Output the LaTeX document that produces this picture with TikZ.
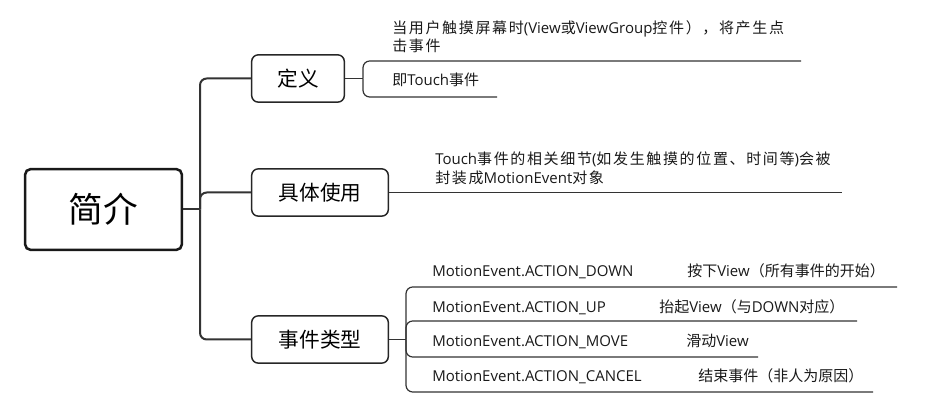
\documentclass[tikz,border=0pt]{standalone}
\usepackage{fontspec}
\setmainfont{Open Sans}
\newfontfamily\cjk{Noto Sans CJK SC}
\newfontfamily\cjkwide[LetterSpace=11]{Noto Sans CJK SC}
\newcommand{\zh}[1]{{\cjk #1}}
\newcommand{\zhw}[1]{{\cjkwide #1}}
\usepackage{tikz}
\usetikzlibrary{
  positioning,
  calc}
\tikzset{every picture/.style={font issue=\fontsize{11.25}{13.5}},
         font issue/.style={execute at begin picture={#1\selectfont}}
        }

\begin{document}
\begin{tikzpicture}[x=0.75pt, y=-0.75pt,
  rootbox/.style={draw=black!90, line width=1.9pt, rounded corners=4pt, minimum width=117.5pt, minimum height=60.5pt, inner sep=0pt, font=\cjk\fontsize{26}{30}\selectfont},
  topic/.style={draw=black!85, line width=1.1pt, rounded corners=5pt, minimum height=35.5pt, inner sep=0pt, font=\cjk\fontsize{15.5}{18}\selectfont},
  trunk/.style={draw=black!80, line width=1.5pt, rounded corners=5pt},
  twig/.style={draw=black!80, line width=0.9pt, rounded corners=5pt},
  leaf/.style={anchor=base west, inner sep=0pt, text=black!90}]
\useasboundingbox (0,0) rectangle (949,416);
% main topics
\node[rootbox] (root) at (103.5,209.5) {简介};
\node[topic, minimum width=69.5pt] (def) at (298,78.5) {定义};
\node[topic, minimum width=102.5pt] (use) at (320,192.5) {具体使用};
\node[topic, minimum width=102.5pt] (type) at (320,339.5) {事件类型};
\coordinate (hub) at (200,209.5);
\draw[trunk] (root.east) -- (hub);
\foreach \t in {def,use,type}
  \draw[trunk] (hub) |- (\t.west);
% definition
\coordinate (defhub) at (363,78.5);
\coordinate (defend1) at (801,61);
\coordinate (defend2) at (497,97);
\draw[twig] (def.east) -- (defhub);
\draw[twig] (defhub) |- (defend1);
\draw[twig] (defhub) |- (defend2);
\node[leaf] (deftxt1) at (392,34) {\begin{tabular}[t]{@{}l@{}}\zhw{当用户触摸屏幕时}(View\zhw{或}ViewGroup\zhw{控件），将产生点}\\\zhw{击事件}\end{tabular}};
\node[leaf] (deftxt2) at (392,86) {\zh{即}Touch\zh{事件}};
% usage
\coordinate (useend) at (842,192.5);
\draw[twig] (use.east) -- (useend);
\node[leaf] (usetxt) at (435,165) {\begin{tabular}[t]{@{}l@{}}Touch\zhw{事件的相关细节}(\zhw{如发生触摸的位置、时间等})\zhw{会被}\\\zhw{封装成}MotionEvent\zhw{对象}\end{tabular}};
% event types
\coordinate (typehub) at (406,339.5);
\draw[twig] (type.east) -- (typehub);
\foreach \n/\y/\e in {down/287/897, up/321/857, move/357/758, cancel/392/873}{
  \coordinate (\n end) at (\e,\y);
  \draw[twig] (typehub) |- (\n end);
}
\node[leaf] (downtxt) at (432,277) {MotionEvent.ACTION\_DOWN};
\node[leaf] (downinfo) at (687,277) {\zh{按下}View\zh{（所有事件的开始）}};
\node[leaf] (uptxt) at (432,313) {MotionEvent.ACTION\_UP};
\node[leaf] (upinfo) at (659,313) {\zh{抬起}View\zh{（与}DOWN\zh{对应）}};
\node[leaf] (movetxt) at (432,347) {MotionEvent.ACTION\_MOVE};
\node[leaf] (moveinfo) at (686,347) {\zh{滑动}View};
\node[leaf] (canceltxt) at (432,382) {MotionEvent.ACTION\_CANCEL};
\node[leaf] (cancelinfo) at (698,382) {\zh{结束事件（非人为原因）}};
\end{tikzpicture}
\end{document}
